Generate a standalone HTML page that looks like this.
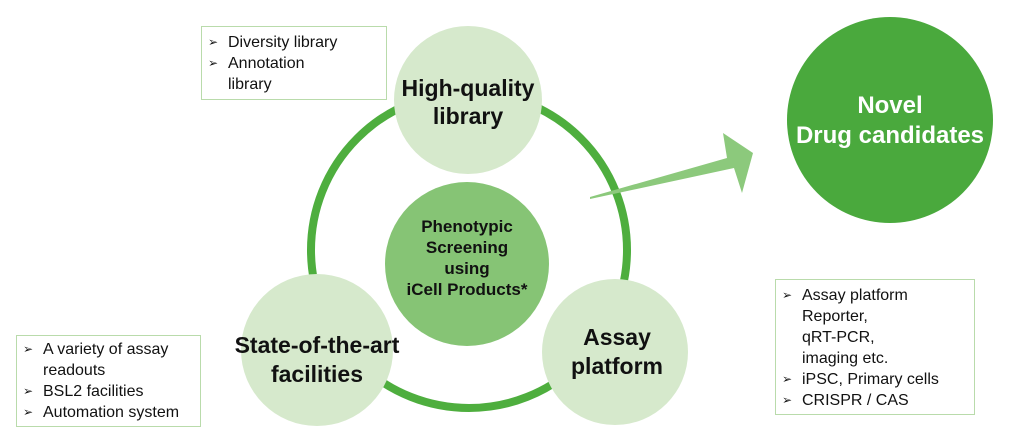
<!DOCTYPE html>
<html><head><meta charset="utf-8"><style>
body{margin:0;width:1024px;height:440px;background:#fff;overflow:hidden;position:relative;font-family:"Liberation Sans","DejaVu Sans",sans-serif}
.box{position:absolute;border:1.5px solid #b9dbab;background:#fff;font-size:16px;line-height:21px;color:#111;box-sizing:border-box}
.box div{padding-left:26px;position:relative}
.box div:before{content:"➢";position:absolute;left:6px;font-size:12px}
.box div.c:before{content:""}
</style></head><body>
<svg width="1024" height="440" style="position:absolute;left:0;top:0">
<circle cx="469" cy="250" r="158" fill="none" stroke="#4eae3e" stroke-width="8"/>
<circle cx="468" cy="100" r="74" fill="#d6e9cc"/>
<circle cx="317" cy="350" r="76" fill="#d6e9cc"/>
<circle cx="615" cy="352" r="73" fill="#d6e9cc"/>
<circle cx="467" cy="264" r="82" fill="#86c475"/>
<circle cx="890" cy="120" r="103" fill="#4aa93d"/>
<polygon points="590,197 727,158 723,133 753,153 742,193 734,168 590,199" fill="#8cc97c"/>
<g font-weight="bold" text-anchor="middle" fill="#111">
<text x="468" y="96" font-size="23">High-quality</text>
<text x="468" y="124" font-size="23">library</text>
<text x="317" y="353" font-size="23">State-of-the-art</text>
<text x="317" y="382" font-size="23">facilities</text>
<text x="617" y="345" font-size="23">Assay</text>
<text x="617" y="374" font-size="23">platform</text>
<text x="467" y="232" font-size="17">Phenotypic</text>
<text x="467" y="253" font-size="17">Screening</text>
<text x="467" y="274" font-size="17">using</text>
<text x="467" y="295" font-size="17">iCell Products*</text>
<text x="890" y="113" font-size="24" fill="#fff">Novel</text>
<text x="890" y="143" font-size="24" fill="#fff">Drug candidates</text>
</g>
</svg>
<div class="box" style="left:201px;top:26px;width:186px;height:74px;padding-top:5px">
<div>Diversity library</div><div>Annotation<br>library</div></div>
<div class="box" style="left:16px;top:335px;width:185px;height:92px;padding-top:3px">
<div>A variety of assay<br>readouts</div><div>BSL2 facilities</div><div>Automation system</div></div>
<div class="box" style="left:775px;top:279px;width:200px;height:136px;padding-top:5px">
<div>Assay platform<br>Reporter,<br>qRT-PCR,<br>imaging etc.</div><div>iPSC, Primary cells</div><div>CRISPR / CAS</div></div>
</body></html>
